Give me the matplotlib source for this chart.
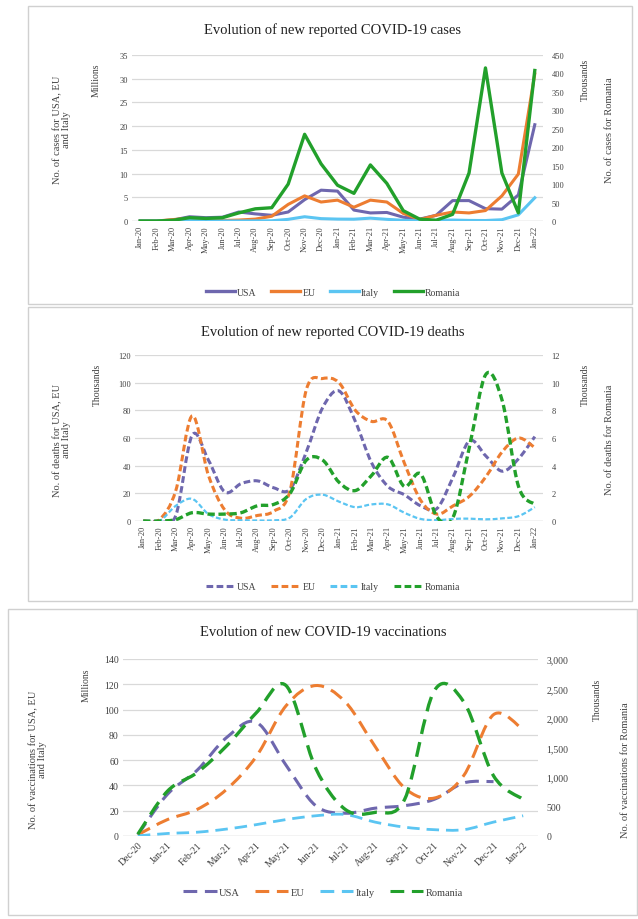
import numpy as np
import matplotlib
matplotlib.use("Agg")
import matplotlib.pyplot as plt
from matplotlib.path import Path
from matplotlib.patches import PathPatch, Rectangle
from matplotlib.lines import Line2D
from matplotlib.ticker import FuncFormatter

plt.rcParams['font.family'] = ['Liberation Serif', 'DejaVu Serif']

W, H = 638, 920

# monthly categories
months = ['Jan-20', 'Feb-20', 'Mar-20', 'Apr-20', 'May-20', 'Jun-20', 'Jul-20',
          'Aug-20', 'Sep-20', 'Oct-20', 'Nov-20', 'Dec-20', 'Jan-21', 'Feb-21',
          'Mar-21', 'Apr-21', 'May-21', 'Jun-21', 'Jul-21', 'Aug-21', 'Sep-21',
          'Oct-21', 'Nov-21', 'Dec-21', 'Jan-22']
vacc_months = ['Dec-20', 'Jan-21', 'Feb-21', 'Mar-21', 'Apr-21', 'May-21', 'Jun-21',
               'Jul-21', 'Aug-21', 'Sep-21', 'Oct-21', 'Nov-21', 'Dec-21', 'Jan-22']

# new cases (USA/EU/Italy in millions, Romania in thousands)
cases_usa = [0.0, 0.0, 0.2, 0.9, 0.7, 0.8, 1.9, 1.5, 1.2, 1.9, 4.5, 6.5, 6.3, 2.3,
             1.7, 1.8, 0.8, 0.4, 1.2, 4.3, 4.3, 2.6, 2.5, 5.5, 20.3]
cases_eu = [0.0, 0.0, 0.3, 0.6, 0.2, 0.1, 0.2, 0.4, 1.0, 3.5, 5.3, 4.0, 4.4, 2.9,
            4.4, 4.0, 1.6, 0.3, 1.2, 1.9, 1.7, 2.2, 5.3, 9.9, 31.0]
cases_italy = [0.0, 0.0, 0.1, 0.1, 0.03, 0.01, 0.01, 0.03, 0.05, 0.35, 0.9, 0.5,
               0.4, 0.38, 0.6, 0.35, 0.15, 0.03, 0.15, 0.2, 0.12, 0.1, 0.27, 1.3, 4.9]
cases_romania = [0, 0, 2, 9, 7, 9, 22, 33, 36, 100, 235, 155, 97, 75, 152, 102,
                 28, 5, 2, 18, 130, 415, 130, 22, 408]

# new deaths (USA/EU/Italy in thousands, Romania in thousands)
deaths_usa = [0, 0, 4, 62, 44, 21, 27, 29, 24, 23, 50, 82, 94, 72, 42, 25, 19,
              11, 9, 32, 58, 47, 36, 45, 61]
deaths_eu = [0, 1, 22, 76, 33, 8, 2, 4, 7, 22, 95, 103, 100, 80, 72, 72, 42, 15,
             5, 11, 18, 32, 50, 60, 53]
deaths_italy = [0, 0, 11, 16, 5, 1, 0.5, 0.4, 0.5, 2.5, 16, 19, 14, 10, 12, 12, 6,
                1.5, 0.6, 1.5, 1.7, 1.2, 1.9, 3.5, 10]
deaths_romania = [0, 0, 0.1, 0.6, 0.5, 0.5, 0.6, 1.1, 1.2, 2.0, 4.4, 4.4, 2.8, 2.2,
                  3.3, 4.6, 2.5, 3.4, 0.3, 0.3, 5.4, 10.6, 8.7, 2.5, 1.2]

# new vaccinations (USA/EU/Italy in millions, Romania in thousands)
vacc_usa = [1, 33, 52, 78, 90, 56, 24, 18, 22, 24, 29, 42, 43, np.nan]
vacc_eu = [1, 13, 21, 37, 63, 103, 119, 106, 71, 38, 30, 48, 96, 84]
vacc_italy = [0.1, 2, 3, 5.5, 9, 13, 16, 17, 11, 7, 5, 5, 11, 16]
vacc_romania = [30, 760, 1075, 1530, 2090, 2550, 1150, 450, 400, 620, 2460, 2270,
                1020, 620]

C_USA = '#6E67AE'
C_EU = '#ED7D31'
C_ITALY = '#5BC5F2'
C_ROM = '#22A02B'
GRID = '#D9D9D9'
TXT = '#404040'


def fx(px):
    return px / W


def fy(py):
    return 1 - py / H


def rect(x0, y0, x1, y1):
    return [fx(x0), fy(y1), fx(x1) - fx(x0), fy(y0) - fy(y1)]


def smooth_line(ax, values, color, dashes, lw):
    # bezier curve through every point (smoothed line like in a spreadsheet chart)
    y = np.asarray(values, dtype=float)
    x = np.arange(len(y), dtype=float)
    ok = ~np.isnan(y)
    x, y = x[ok], y[ok]
    pts = np.column_stack([x, y])
    verts = [pts[0]]
    codes = [Path.MOVETO]
    n = len(pts)
    for i in range(n - 1):
        p0 = pts[max(i - 1, 0)]
        p1 = pts[i]
        p2 = pts[i + 1]
        p3 = pts[min(i + 2, n - 1)]
        c1 = p1 + (p2 - p0) / 6.0
        c2 = p2 - (p3 - p1) / 6.0
        verts += [c1, c2, p2]
        codes += [Path.CURVE4] * 3
    patch = PathPatch(Path(verts, codes), facecolor='none', edgecolor=color,
                      lw=lw, linestyle=(0, dashes), capstyle='butt', zorder=3)
    ax.add_patch(patch)


def style_axes(ax, ax2, ymax, ystep, ymax2, ystep2, labels, rot, fs):
    ax.set_xlim(-0.5, len(labels) - 0.5)
    ax.set_ylim(0, ymax)
    ax.set_yticks(np.arange(0, ymax + ystep / 2, ystep))
    ax.set_xticks(range(len(labels)))
    if rot == 90:
        ax.set_xticklabels(labels, rotation=90, fontsize=fs, color=TXT)
    else:
        ax.set_xticklabels(labels, rotation=rot, ha='right', rotation_mode='anchor',
                           fontsize=fs, color=TXT)
    ax.grid(axis='y', color=GRID, lw=0.9)
    ax.set_axisbelow(True)
    for s in ax.spines.values():
        s.set_visible(False)
    ax.tick_params(length=0, labelsize=fs, colors=TXT, pad=3)
    ax.axhline(0, color=GRID, lw=1.0, zorder=1)
    ax2.set_ylim(0, ymax2)
    ax2.set_yticks(np.arange(0, ymax2 + ystep2 / 2, ystep2))
    for s in ax2.spines.values():
        s.set_visible(False)
    ax2.tick_params(length=0, labelsize=fs, colors=TXT, pad=6)


fig = plt.figure(figsize=(W / 100, H / 100), dpi=100)
fig.patch.set_facecolor('white')

# chart frames
for box in [(28, 7, 632, 305), (28, 308, 632, 602), (8, 610, 637, 916)]:
    fig.patches.append(Rectangle((fx(box[0]), fy(box[3])), fx(box[2]) - fx(box[0]),
                                 fy(box[1]) - fy(box[3]), transform=fig.transFigure,
                                 fill=False, edgecolor='#D0D0D0', lw=1.0))

# ---- cases ----
ax1 = fig.add_axes(rect(132, 56, 543, 222))
ax1r = ax1.twinx()
x = np.arange(len(months))
ax1.plot(x, cases_usa, color=C_USA, lw=2.2, zorder=3)
ax1.plot(x, cases_eu, color=C_EU, lw=2.2, zorder=3)
ax1.plot(x, cases_italy, color=C_ITALY, lw=2.2, zorder=3)
ax1r.plot(x, cases_romania, color=C_ROM, lw=2.4, zorder=3)
style_axes(ax1, ax1r, 35, 5, 450, 50, months, 90, 6)
fig.text(fx(333), fy(30), 'Evolution of new reported COVID-19 cases', ha='center',
         va='center', fontsize=10.5, color='#202020')
fig.text(fx(96), fy(80), 'Millions', rotation=90, ha='center', va='center', fontsize=7, color=TXT)
fig.text(fx(62), fy(130), 'No. of cases for USA, EU\nand Italy', rotation=90, ha='center',
         va='center', fontsize=7.5, color=TXT, linespacing=1.0)
fig.text(fx(585), fy(80), 'Thousands', rotation=90, ha='center', va='center', fontsize=7, color=TXT)
fig.text(fx(609), fy(130), 'No. of cases for Romania', rotation=90, ha='center',
         va='center', fontsize=7.5, color=TXT)
h1 = [Line2D([], [], color=c, lw=2.4) for c in (C_USA, C_EU, C_ITALY, C_ROM)]
ax1.legend(h1, ['USA', 'EU', 'Italy', 'Romania'], loc='center', ncol=4,
           bbox_to_anchor=(fx(333), fy(293)), bbox_transform=fig.transFigure,
           frameon=False, fontsize=7, handlelength=3, columnspacing=1.5,
           handletextpad=0.2, labelcolor=TXT)

# ---- deaths ----
ax2 = fig.add_axes(rect(135, 356, 543, 522))
ax2r = ax2.twinx()
dash2 = (2.2, 1.1)
smooth_line(ax2, deaths_usa, C_USA, dash2, 2.2)
smooth_line(ax2, deaths_eu, C_EU, dash2, 2.2)
smooth_line(ax2, deaths_italy, C_ITALY, dash2, 1.6)
smooth_line(ax2r, deaths_romania, C_ROM, dash2, 2.4)
style_axes(ax2, ax2r, 120, 20, 12, 2, months, 90, 6)
ax2r.set_xlim(ax2.get_xlim())
fig.text(fx(333), fy(332), 'Evolution of new reported COVID-19 deaths', ha='center',
         va='center', fontsize=10.5, color='#202020')
fig.text(fx(97), fy(385), 'Thousands', rotation=90, ha='center', va='center', fontsize=7, color=TXT)
fig.text(fx(62), fy(440), 'No. of deaths for USA, EU\nand Italy', rotation=90, ha='center',
         va='center', fontsize=7.5, color=TXT, linespacing=1.0)
fig.text(fx(585), fy(385), 'Thousands', rotation=90, ha='center', va='center', fontsize=7, color=TXT)
fig.text(fx(609), fy(440), 'No. of deaths for Romania', rotation=90, ha='center',
         va='center', fontsize=7.5, color=TXT)
h2 = [Line2D([], [], color=c, lw=2.2, dashes=dash2) for c in (C_USA, C_EU, C_ITALY, C_ROM)]
ax2.legend(h2, ['USA', 'EU', 'Italy', 'Romania'], loc='center', ncol=4,
           bbox_to_anchor=(fx(333), fy(588)), bbox_transform=fig.transFigure,
           frameon=False, fontsize=7, handlelength=3, columnspacing=1.5,
           handletextpad=0.2, labelcolor=TXT)

# ---- vaccinations ----
ax3 = fig.add_axes(rect(123, 660, 538, 837))
ax3r = ax3.twinx()
dash3 = (4.5, 2.5)
smooth_line(ax3, vacc_usa, C_USA, dash3, 2.2)
smooth_line(ax3, vacc_eu, C_EU, dash3, 2.2)
smooth_line(ax3, vacc_italy, C_ITALY, dash3, 2.0)
smooth_line(ax3r, vacc_romania, C_ROM, dash3, 2.4)
style_axes(ax3, ax3r, 140, 20, 3000, 500, vacc_months, 45, 7)
ax3r.set_xlim(ax3.get_xlim())
ax3r.yaxis.set_major_formatter(FuncFormatter(lambda v, p: f'{v:,.0f}'))
fig.text(fx(323), fy(632), 'Evolution of new COVID-19 vaccinations', ha='center',
         va='center', fontsize=10.5, color='#202020')
fig.text(fx(86), fy(685), 'Millions', rotation=90, ha='center', va='center', fontsize=7, color=TXT)
fig.text(fx(38), fy(760), 'No. of vaccinations for USA, EU\nand Italy', rotation=90,
         ha='center', va='center', fontsize=7.5, color=TXT, linespacing=1.0)
fig.text(fx(597), fy(700), 'Thousands', rotation=90, ha='center', va='center', fontsize=7, color=TXT)
fig.text(fx(626), fy(770), 'No. of vaccinations for Romania', rotation=90, ha='center',
         va='center', fontsize=7.5, color=TXT)
h3 = [Line2D([], [], color=c, lw=2.2, dashes=dash3) for c in (C_USA, C_EU, C_ITALY, C_ROM)]
ax3.legend(h3, ['USA', 'EU', 'Italy', 'Romania'], loc='center', ncol=4,
           bbox_to_anchor=(fx(323), fy(893)), bbox_transform=fig.transFigure,
           frameon=False, fontsize=7.5, handlelength=3.2, columnspacing=1.5,
           handletextpad=0.2, labelcolor=TXT)

fig.savefig('out.png', dpi=100)
